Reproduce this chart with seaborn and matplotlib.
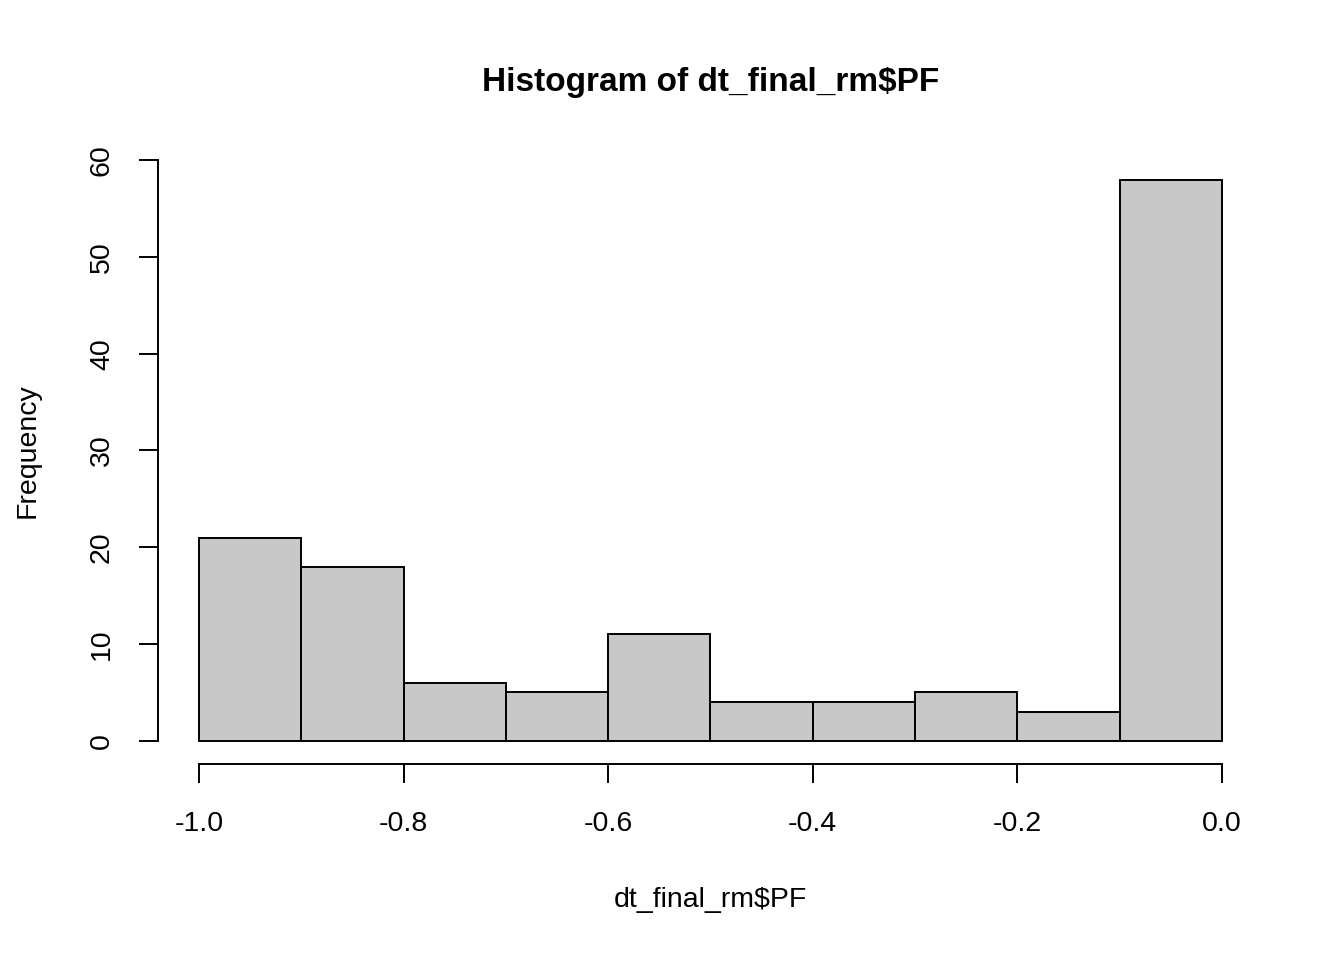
import numpy as np
import pandas as pd
import seaborn as sns
import matplotlib
matplotlib.use('Agg')
import matplotlib.pyplot as plt

# histogram bins
bin_edges = [-1.0, -0.9, -0.8, -0.7, -0.6, -0.5, -0.4, -0.3, -0.2, -0.1, 0.0]
counts = [21, 18, 6, 5, 11, 4, 4, 5, 3, 58]
x_ticks = [-1.0, -0.8, -0.6, -0.4, -0.2, 0.0]
x_tick_labels = ['-1.0', '-0.8', '-0.6', '-0.4', '-0.2', '0.0']
y_ticks = [0, 10, 20, 30, 40, 50, 60]

sns.set_style('ticks', rc={'text.color': 'black', 'axes.labelcolor': 'black',
                           'xtick.color': 'black', 'ytick.color': 'black'})
plt.rcParams['font.family'] = ['Liberation Sans', 'DejaVu Sans']

centers = [(bin_edges[i] + bin_edges[i + 1]) / 2 for i in range(len(counts))]
df = pd.DataFrame({'PF': centers, 'n': counts})

fig = plt.figure(figsize=(13.44, 9.6), dpi=100)
ax = fig.add_axes([158 / 1344, 1 - 764 / 960, (1263 - 158) / 1344, (764 - 137) / 960])

sns.histplot(data=df, x='PF', weights='n', bins=bin_edges, ax=ax,
             color='#c8c8c8', edgecolor='black', linewidth=1.4, alpha=1)

# R style: 4% padding, detached axes from first to last tick
ax.set_xlim(-1.04, 0.04)
ax.set_ylim(-2.4, 62.4)
ax.spines['top'].set_visible(False)
ax.spines['right'].set_visible(False)
ax.spines['left'].set_bounds(0, 60)
ax.spines['bottom'].set_bounds(-1.0, 0.0)
for s in ['left', 'bottom']:
    ax.spines[s].set_linewidth(1.4)
    ax.spines[s].set_color('black')

ax.set_xticks(x_ticks)
ax.set_xticklabels(x_tick_labels)
ax.set_yticks(y_ticks)
ax.set_yticklabels([str(v) for v in y_ticks], rotation=90, va='center')
ax.tick_params(axis='both', length=14, width=1.4, labelsize=20.5, color='black')
ax.tick_params(axis='x', pad=20)
ax.tick_params(axis='y', pad=17)

ax.set_xlabel('dt_final_rm$PF', fontsize=20.5, labelpad=36)
ax.set_ylabel('Frequency', fontsize=20.5, labelpad=35)
ax.set_title('Histogram of dt_final_rm$PF', fontsize=24, fontweight='bold', pad=33)

fig.savefig('out.png', dpi=100)
